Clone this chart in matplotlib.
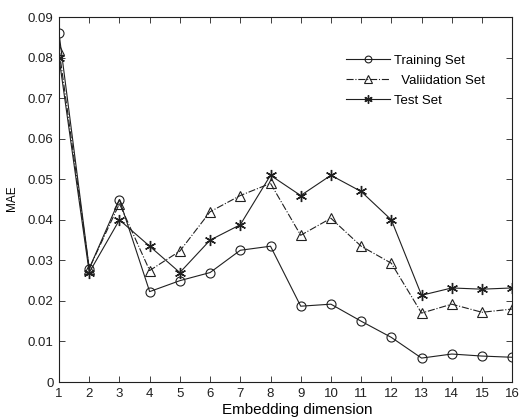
import matplotlib
matplotlib.use("Agg")
import matplotlib.pyplot as plt

plt.rcParams['font.family'] = ['Liberation Sans', 'DejaVu Sans']

dims = list(range(1, 17))
training = [0.086, 0.028, 0.045, 0.0223, 0.025, 0.027, 0.0325, 0.0335, 0.0187, 0.0192, 0.015, 0.011, 0.0059, 0.0069, 0.0064, 0.0061]
validation = [0.082, 0.028, 0.044, 0.0275, 0.0323, 0.042, 0.046, 0.049, 0.0362, 0.0404, 0.0335, 0.0293, 0.017, 0.0192, 0.0172, 0.018]
test = [0.080, 0.027, 0.040, 0.0335, 0.027, 0.035, 0.0388, 0.051, 0.046, 0.051, 0.047, 0.040, 0.0214, 0.0232, 0.0229, 0.0232]
yticks = [0, 0.01, 0.02, 0.03, 0.04, 0.05, 0.06, 0.07, 0.08, 0.09]
ytick_labels = ['0', '0.01', '0.02', '0.03', '0.04', '0.05', '0.06', '0.07', '0.08', '0.09']

fig = plt.figure(figsize=(5.2, 4.19), dpi=100)
ax = fig.add_axes([0.1135, 0.0883, 0.8715, 0.8707])

lc = '#202020'
ax.plot(dims, training, '-', color=lc, lw=0.8, marker='o', ms=6.5, mfc='none', mec=lc, mew=0.8, label='Training Set')
ax.plot(dims, validation, '-.', color=lc, lw=0.8, marker='^', ms=7, mfc='none', mec=lc, mew=0.8, label='  Valiidation Set')
ax.plot(dims, test, '-', color=lc, lw=0.8, marker=(6, 2, 0), ms=8, mfc=lc, mec=lc, mew=1.0, label='Test Set')

ax.set_xlim(1, 16)
ax.set_ylim(0, 0.09)
ax.set_xticks(dims)
ax.set_yticks(yticks)
ax.set_yticklabels(ytick_labels)
ax.tick_params(direction='in', top=True, right=True, labelsize=9.5, length=4, width=0.6, colors='#202020', pad=4)
for s in ax.spines.values():
    s.set_linewidth(0.8)
    s.set_color('#202020')
ax.set_xlabel('Embedding dimension', fontsize=11, va='center')
ax.xaxis.set_label_coords(0.525, -0.076)
ax.set_ylabel('MAE', fontsize=8.5, va='center')
ax.yaxis.set_label_coords(-0.104, 0.505)

leg = ax.legend(loc='upper left', bbox_to_anchor=(0.622, 0.912), frameon=False, fontsize=9.5,
                handlelength=3.3, handletextpad=0.3, labelspacing=0.6, borderaxespad=0,
                markerscale=0.75)

fig.savefig('out.png', dpi=100, facecolor='white')
